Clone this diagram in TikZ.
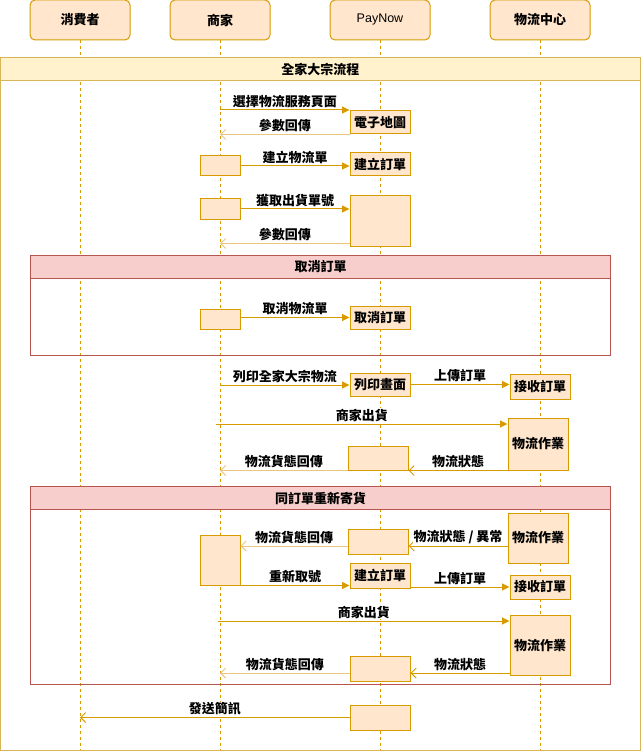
\documentclass[tikz,border=0pt]{standalone}
\usepackage{fontspec}
\setmainfont{Liberation Sans}
\newfontfamily\cjk{Noto Sans CJK TC}
\usetikzlibrary{arrows.meta,calc}
\definecolor{SeqFill}{HTML}{FFE6CC}
\definecolor{SeqLine}{HTML}{D79B00}
\definecolor{SeqFade}{HTML}{E8C680}
\definecolor{SeqFrame}{HTML}{D6B656}
\definecolor{SeqBand}{HTML}{FFF2CC}
\definecolor{SeqAlt}{HTML}{B85450}
\definecolor{SeqAltFill}{HTML}{F8CECC}
\tikzset{
  seq font/.style={font=\fontsize{13}{15}\selectfont\cjk\bfseries},
  seq head/.style={
    draw=SeqLine,
    fill=SeqFill,
    line width=1pt,
    rounded corners=5pt,
    minimum width=100pt,
    minimum height=40pt,
    inner sep=0pt,
    seq font
  },
  seq box/.style={draw=SeqLine, fill=SeqFill, line width=1pt, minimum width=60pt, minimum height=23pt, inner sep=0pt, seq font},
  seq act/.style={seq box, minimum width=40pt, minimum height=20pt},
  seq life/.style={SeqLine, line width=1pt, dash pattern=on 3pt off 3pt},
  seq call/.style={-{Triangle[length=7.5pt,width=7pt]}, line width=1pt, SeqLine},
  seq reply/.style={-{Straight Barb[length=5pt,width=10pt]}, line width=1pt, SeqFade},
  seq send/.style={-{Straight Barb[length=5pt,width=10pt]}, line width=1pt, SeqLine},
  seq msg/.style={midway, above=1.5pt, inner sep=0.5pt, fill=white, text=black, seq font},
  seq frame/.style={draw=SeqFrame, line width=1pt, inner sep=0pt},
  seq band/.style={draw=SeqFrame, fill=SeqBand, line width=1pt, minimum height=23pt, inner sep=0pt, seq font},
  alt frame/.style={draw=SeqAlt, line width=1pt, minimum width=580pt, inner sep=0pt},
  alt band/.style={draw=SeqAlt, fill=SeqAltFill, line width=1pt, minimum width=580pt, minimum height=23pt, inner sep=0pt, seq font}
}
\begin{document}
\begin{tikzpicture}[x=1pt,y=-1pt]
\useasboundingbox (0,0) rectangle (641,751);
% participants
\node[seq head] (buyer) at (80,20) {消費者};
\node[seq head] (shop) at (220,20) {商家};
\node[seq head, font=\fontsize{12.5}{15}\selectfont] (paynow) at (380,20) {PayNow};
\node[seq head] (hub) at (540,20) {物流中心};
\coordinate (bottom) at (0,750);
\foreach \p in {buyer,shop,paynow,hub}
  \draw[seq life] (\p.south) -- (\p.south |- bottom);

% frames
\node[seq frame, minimum width=639.5pt, minimum height=692pt] (flow) at (320.25,404) {};
\node[seq band, minimum width=639.5pt, anchor=north] (flowBand) at (flow.north) {全家大宗流程};
\node[alt frame, minimum height=100pt] (cancelFrame) at (320.5,305.5) {};
\node[alt band, anchor=north] (cancelBand) at (cancelFrame.north) {取消訂單};
\node[alt frame, minimum height=198pt] (resendFrame) at (320.5,585.5) {};
\node[alt band, anchor=north] (resendBand) at (resendFrame.north) {同訂單重新寄貨};

% boxes
\node[seq box] (map) at (380,122.5) {電子地圖};
\node[seq act] (shopAct1) at (220,166) {};
\node[seq box] (order1) at (380,164.5) {建立訂單};
\node[seq act] (shopAct2) at (220,209) {};
\node[seq box, minimum height=50pt] (payAct1) at (380,221) {};
\node[seq act] (shopAct3) at (220,319) {};
\node[seq box] (cancel) at (380,317.5) {取消訂單};
\node[seq box] (print) at (380,384.5) {列印畫面};
\node[seq box, minimum height=25pt] (recv1) at (540,386.5) {接收訂單};
\node[seq box, minimum height=52pt] (work1) at (538,444) {物流作業};
\node[seq box, minimum height=24pt] (payAct2) at (378,458) {};
\node[seq box, minimum height=50pt] (work2) at (538,538) {物流作業};
\node[seq box, minimum height=25pt] (payAct3) at (378,541.5) {};
\node[seq act, minimum height=50pt] (shopAct4) at (220,560) {};
\node[seq box, minimum height=25pt] (order2) at (380,575.5) {建立訂單};
\node[seq box, minimum height=24pt] (recv2) at (540,587) {接收訂單};
\node[seq box, minimum height=60pt] (work3) at (540,645) {物流作業};
\node[seq box, minimum height=25pt] (payAct4) at (380,668.5) {};
\node[seq box, minimum height=25pt] (payAct5) at (380,717.5) {};

% messages
\coordinate (m1) at (220,110);
\coordinate (m2) at (220,385);
\coordinate (m3) at (216,424);
\coordinate (m4) at (218,621);
\coordinate (e1) at (540,546);
\coordinate (e2) at (540,673);
\draw[seq call] (m1) -- node[seq msg] (lbPage) {選擇物流服務頁面} (m1 -| map.west);
\draw[seq reply] (map.south west) -- node[seq msg] (lbBack1) {參數回傳} (map.south west -| shop);
\draw[seq call] (shopAct1.east) -- node[seq msg] (lbCreate) {建立物流單} (shopAct1.east -| order1.west);
\draw[seq call] (shopAct2.east) -- node[seq msg] (lbFetch) {獲取出貨單號} (shopAct2.east -| payAct1.west);
\draw[seq reply] ([yshift=3pt]payAct1.south west) -- node[seq msg] (lbBack2) {參數回傳} ([yshift=3pt]payAct1.south west -| shop);
\draw[seq call] (cancel.west -| shopAct3.east) -- node[seq msg] (lbCancel) {取消物流單} (cancel.west);
\draw[seq call] (m2) -- node[seq msg] (lbPrint) {列印全家大宗物流} (m2 -| print.west);
\draw[seq call] (print.east) -- node[seq msg] (lbUpload1) {上傳訂單} (print.east -| recv1.west);
\draw[seq call] (m3) -- node[seq msg] (lbShip1) {商家出貨} (m3 -| work1.west);
\draw[seq send] (work1.south west) -- node[seq msg] (lbState1) {物流狀態} (work1.south west -| payAct2.east);
\draw[seq reply] (payAct2.south west) -- node[seq msg] (lbTrack1) {物流貨態回傳} (payAct2.south west -| shop);
\draw[seq send] (e1 -| work2.west) -- node[seq msg] (lbState2) {物流狀態 / 異常} (e1 -| payAct3.east);
\draw[seq reply] (e1 -| payAct3.west) -- node[seq msg] (lbTrack2) {物流貨態回傳} (e1 -| shopAct4.east);
\draw[seq call] (shopAct4.south east) -- node[seq msg] (lbRenew) {重新取號} (shopAct4.south east -| order2.west);
\draw[seq call] (recv2.west -| order2.east) -- node[seq msg] (lbUpload2) {上傳訂單} (recv2.west);
\draw[seq call] (m4) -- node[seq msg] (lbShip2) {商家出貨} (m4 -| work3.west);
\draw[seq send] (e2 -| work3.west) -- node[seq msg] (lbState3) {物流狀態} (e2 -| payAct4.east);
\draw[seq reply] (e2 -| payAct4.west) -- node[seq msg] (lbTrack3) {物流貨態回傳} (e2 -| shop);
\draw[seq send] (payAct5.west) -- node[seq msg] (lbSms) {發送簡訊} (payAct5.west -| buyer);
\end{tikzpicture}
\end{document}
